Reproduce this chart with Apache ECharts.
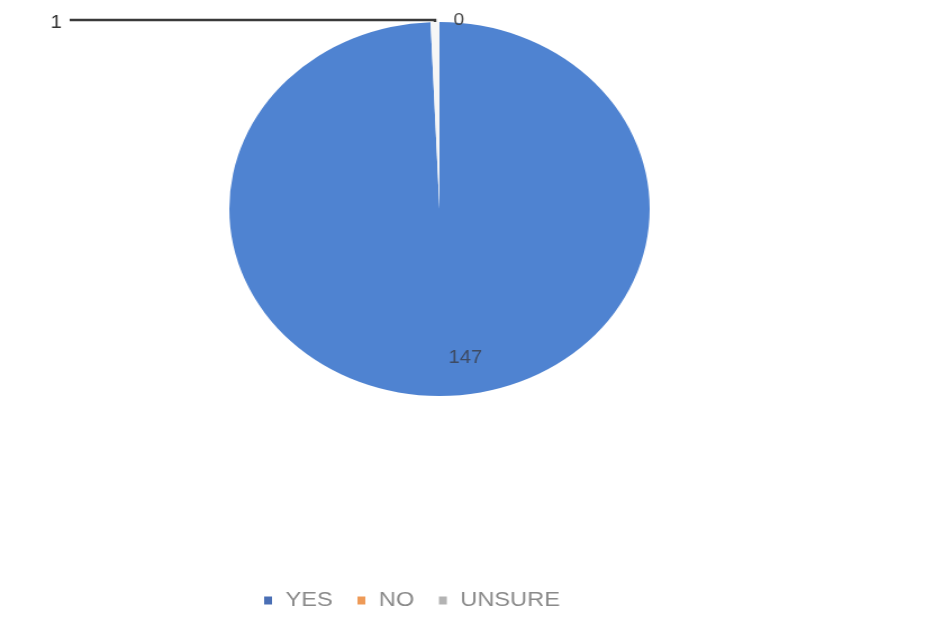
<!DOCTYPE html>
<html>
<head>
<meta charset="utf-8">
<script src="https://cdn.jsdelivr.net/npm/echarts@6/dist/echarts.min.js"></script>
<style>
  html, body { margin: 0; padding: 0; background: #ffffff; overflow: hidden; }
  /* the chart is drawn narrower and stretched sideways, giving the oval pie */
  #chart { width: 830px; height: 637px; transform: scaleX(1.124); transform-origin: 0 0; }
</style>
</head>
<body>
<div id="chart"></div>
<script>
// survey answers
const categories = ['YES', 'NO', 'UNSURE'];
const counts = [147, 0, 1];

const sliceColors = { YES: '#4f83d1', NO: '#ed7d31', UNSURE: '#f6f6f6' };
const legendColors = { YES: '#4a6fb5', NO: '#ee9a57', UNSURE: '#b3b3b3' };

// slice order round the pie: the empty NO sits at the top, then YES, then UNSURE
const pieOrder = ['NO', 'YES', 'UNSURE'];

const labelFor = {
  YES: { position: 'inside', offset: [21, 53], fontSize: 18, color: '#3e4b63' },
  UNSURE: { position: 'outside', fontSize: 18, color: '#333333', offset: [-2, 3] },
  NO: { position: 'outside', fontSize: 17, color: '#444444', offset: [33, 2] }
};
const lineFor = {
  YES: { show: false },
  UNSURE: { show: true, length: 2, length2: 325, lineStyle: { color: '#3a3a3a', width: 2.5 } },
  NO: { show: false, length: 4, length2: 6 }
};

const pieData = pieOrder.map(name => ({
  name: name,
  value: counts[categories.indexOf(name)],
  itemStyle: { color: sliceColors[name] },
  label: labelFor[name],
  labelLine: lineFor[name]
}));

const chart = echarts.init(document.getElementById('chart'), null, { renderer: 'canvas' });
chart.setOption({
  animation: false,
  backgroundColor: '#ffffff',
  legend: {
    data: categories.map(name => ({ name: name, itemStyle: { color: legendColors[name] } })),
    left: 230,
    top: 585,
    icon: 'rect',
    itemWidth: 7,
    itemHeight: 8,
    itemGap: 22,
    textStyle: { color: '#8a8a8a', fontSize: 21, fontFamily: 'Liberation Sans', padding: [0, 0, 0, 7] }
  },
  series: [{
    type: 'pie',
    center: [391, 209],
    radius: 187,
    startAngle: 90,
    clockwise: true,
    avoidLabelOverlap: false,
    silent: true,
    label: { show: true, formatter: '{c}', fontFamily: 'Liberation Sans' },
    itemStyle: { borderWidth: 0 },
    data: pieData
  }]
});
</script>
</body>
</html>
